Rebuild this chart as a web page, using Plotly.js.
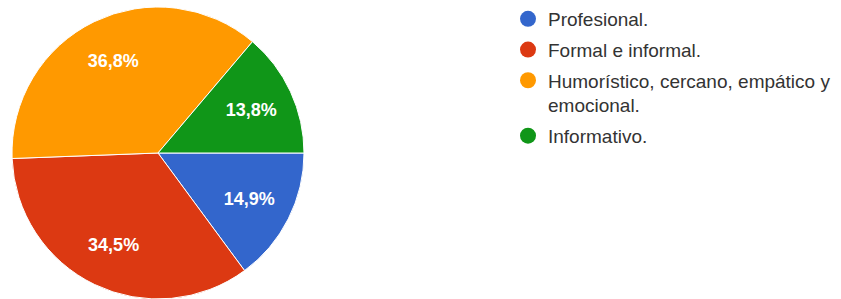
<!DOCTYPE html>
<html>
<head>
<meta charset="utf-8">
<script src="https://cdn.plot.ly/plotly-3.0.1.min.js"></script>
<style>html,body{margin:0;padding:0;background:#fff;overflow:hidden}</style>
</head>
<body>
<div id="chart" style="width:841px;height:299px"></div>
<script>
const categories = ["Profesional.", "Formal e informal.", "Humorístico, cercano, empático y<br>emocional.", "Informativo."];
const values = [14.9, 34.5, 36.8, 13.8];
const colors = ["#3366cc", "#dc3912", "#ff9900", "#109618"];

const W = 841, H = 299;
const pieDomain = {x: [12 / W, 304 / W], y: [0, 1 - 7 / H]};
const traces = [{
  type: "pie",
  values: values,
  labels: categories,
  sort: false,
  direction: "clockwise",
  rotation: 90,
  marker: {colors: colors, line: {color: "#ffffff", width: 1}},
  textinfo: "none",
  hoverinfo: "label+percent",
  showlegend: false,
  domain: pieDomain
}, {
  // transparent ring used only to place the percentage labels farther out
  type: "pie",
  values: values,
  labels: categories,
  sort: false,
  direction: "clockwise",
  rotation: 90,
  hole: 0.4,
  marker: {colors: colors.map(() => "rgba(0,0,0,0)"), line: {width: 0}},
  textinfo: "percent",
  texttemplate: "%{percent:.1%}",
  textposition: "inside",
  insidetextorientation: "horizontal",
  textfont: {family: "Liberation Sans, Arial, sans-serif", size: 18, color: "#ffffff", weight: "bold"},
  hoverinfo: "skip",
  showlegend: false,
  domain: pieDomain
}];
categories.forEach((c, i) => {
  traces.push({
    type: "scatter", mode: "markers", x: [null], y: [null],
    name: c, legendgroup: "g" + i,
    marker: {symbol: "circle", size: 16, color: colors[i]},
    showlegend: true, hoverinfo: "skip"
  });
});

const layout = {
  width: W, height: H,
  margin: {l: 0, r: 0, t: 0, b: 0},
  paper_bgcolor: "#ffffff", plot_bgcolor: "#ffffff",
  separators: ",.",
  showlegend: true,
  xaxis: {visible: false}, yaxis: {visible: false},
  legend: {
    x: 508 / W, xanchor: "left", y: 1, yanchor: "top",
    valign: "top",
    font: {family: "Liberation Sans, Arial, sans-serif", size: 19, color: "#333333"},
    tracegroupgap: 3, bgcolor: "rgba(0,0,0,0)", borderwidth: 0
  }
};
Plotly.newPlot("chart", traces, layout, {displayModeBar: false, staticPlot: true});
</script>
</body>
</html>
